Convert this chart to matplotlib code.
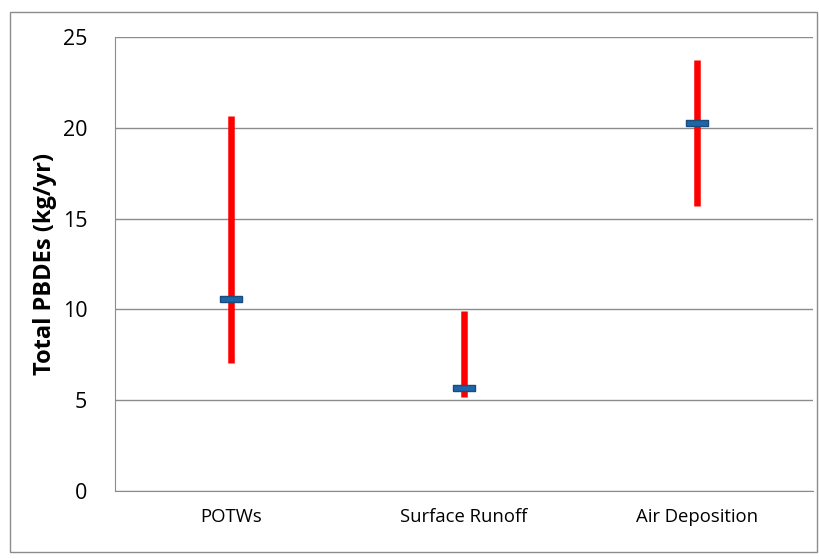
import matplotlib.pyplot as plt
from matplotlib.patches import Rectangle

categories = ['POTWs', 'Surface Runoff', 'Air Deposition']
low = [7.05, 5.15, 15.7]
high = [20.65, 9.93, 23.75]
mid = [10.6, 5.68, 20.28]
yticks = [0, 5, 10, 15, 20, 25]

plt.rcParams['font.family'] = ['Open Sans', 'DejaVu Sans']

fig = plt.figure(figsize=(8.19, 5.59), dpi=100)
ax = fig.add_axes([0.1404, 0.1216, 0.8523, 0.8122])

x = range(len(categories))
ax.vlines(x, low, high, colors='#FF0000', linewidth=4.7, zorder=3)
box = [(-1, -0.24), (1, -0.24), (1, 0.24), (-1, 0.24), (-1, -0.24)]
ax.plot(x, mid, linestyle='none', marker=box, markersize=16,
        markerfacecolor='#1F66A8', markeredgecolor='#1A4C7E',
        markeredgewidth=1.0, zorder=4)

ax.set_xlim(-0.5, 2.5)
ax.set_ylim(0, 25)
ax.set_yticks(yticks)
ax.set_xticks(list(x))
ax.set_xticklabels(categories, fontsize=13.3)
ax.tick_params(axis='y', labelsize=15.5, length=0, pad=20)
ax.tick_params(axis='x', length=0, pad=12)
ax.yaxis.grid(True, color='#8C8C8C', linewidth=1.0)
ax.set_axisbelow(True)
for s in ['top', 'right']:
    ax.spines[s].set_visible(False)
ax.spines['left'].set_color('#8C8C8C')
ax.spines['bottom'].set_color('#8C8C8C')
ax.set_ylabel('Total PBDEs (kg/yr)', fontsize=17, fontweight='bold', labelpad=4)

fig.patches.append(Rectangle((10 / 819, 7 / 559), 807 / 819, 540 / 559,
                             transform=fig.transFigure, fill=False,
                             edgecolor='#8C8C8C', linewidth=1.0))

plt.savefig('out.png')
